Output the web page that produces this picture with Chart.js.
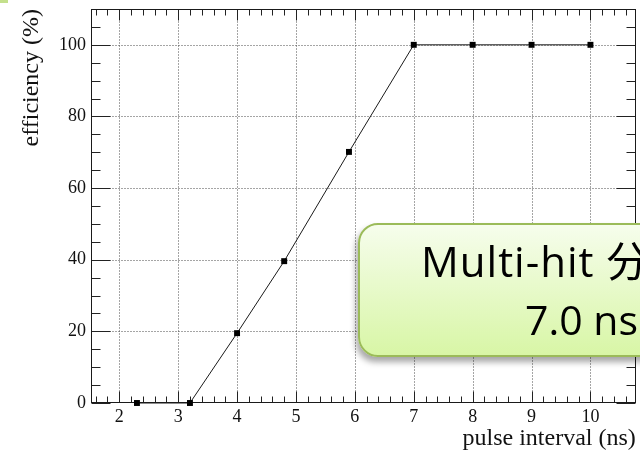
<!DOCTYPE html>
<html>
<head>
<meta charset="utf-8">
<script src="https://cdn.jsdelivr.net/npm/chart.js@4/dist/chart.umd.min.js"></script>
<style>
  html, body { margin: 0; padding: 0; background: #fff; overflow: hidden; }
  #wrap { position: relative; width: 640px; height: 453px; overflow: hidden; }
  canvas { display: block; }
  .corner { position: absolute; left: 0; top: 0; width: 8px; height: 3px; background: #c4e08c; }
  .note {
    position: absolute; left: 358px; top: 223px; width: 330px; height: 130px;
    border: 2px solid #9bbb59; border-radius: 20px;
    background: linear-gradient(#f6fdec, #d8f6a6);
    box-shadow: -2px 5px 6px rgba(0, 0, 0, 0.35);
    font-family: "Open Sans", "Noto Sans CJK JP", sans-serif; color: #000;
  }
  .note span { position: absolute; white-space: nowrap; line-height: 1; }
</style>
</head>
<body>
<div id="wrap">
  <canvas id="chart" width="640" height="453"></canvas>
  <div class="corner"></div>
  <div class="note">
    <span style="left:61px; top:15px; font-size:42px; letter-spacing:1px;">Multi-hit 分解能</span>
    <span style="left:165px; top:74px; font-size:41px;">7.0 ns</span>
  </div>
</div>
<script>
// Measured efficiency versus the interval between two pulses
const pulseInterval = [2.3, 3.2, 4.0, 4.8, 5.9, 7.0, 8.0, 9.0, 10.0];
const efficiency    = [0, 0, 19.5, 39.6, 70.1, 100, 100, 100, 100];
const xTickValues   = [2, 3, 4, 5, 6, 7, 8, 9, 10];
const yTickValues   = [0, 20, 40, 60, 80, 100];

const SERIF = "'Liberation Serif', 'Times New Roman', serif";

// ROOT-like frame: dotted grid, box on all four sides, inward major/minor ticks
const rootFrame = {
  id: 'rootFrame',
  beforeDatasetsDraw(chart) {
    const { ctx, chartArea: a, scales: { x, y } } = chart;
    const px = v => Math.round(x.getPixelForValue(v)) + 0.5;
    const py = v => Math.round(y.getPixelForValue(v)) + 0.5;
    const L = Math.round(a.left) + 0.5, R = Math.round(a.right) - 0.5;
    const T = Math.round(a.top) + 0.5, B = Math.round(a.bottom) - 0.5;

    ctx.save();
    // dotted grid
    ctx.strokeStyle = '#4a4a4a';
    ctx.lineWidth = 1;
    ctx.setLineDash([1, 2]);
    ctx.beginPath();
    xTickValues.forEach(v => { const p = px(v); ctx.moveTo(p, T); ctx.lineTo(p, B); });
    yTickValues.filter(v => v > 0).forEach(v => { const p = py(v); ctx.moveTo(L, p); ctx.lineTo(R, p); });
    ctx.stroke();
    ctx.setLineDash([]);

    // ticks
    ctx.strokeStyle = '#222';
    ctx.beginPath();
    for (let i = 16; i <= 107; i += 2) {
      const v = i / 10, major = i % 10 === 0, len = major ? 11 : 6, p = px(v);
      if (p < L || p > R) continue;
      ctx.moveTo(p, B); ctx.lineTo(p, B - len);
      ctx.moveTo(p, T); ctx.lineTo(p, T + len);
    }
    for (let v = 0; v <= 110; v += 5) {
      const major = v % 20 === 0, len = major ? 19 : 9, p = py(v);
      ctx.moveTo(L, p); ctx.lineTo(L + len, p);
      ctx.moveTo(R, p); ctx.lineTo(R - len, p);
    }
    ctx.stroke();

    // frame
    ctx.strokeStyle = '#1a1a1a';
    ctx.strokeRect(L, T, R - L, B - T);
    ctx.restore();
  }
};

new Chart(document.getElementById('chart'), {
  type: 'line',
  data: {
    datasets: [{
      data: pulseInterval.map((v, i) => ({ x: v, y: efficiency[i] })),
      borderColor: '#1a1a1a',
      borderWidth: 1,
      tension: 0,
      pointStyle: 'rect',
      pointRadius: 4.2,
      pointBackgroundColor: '#000',
      pointBorderWidth: 0,
      clip: false
    }]
  },
  options: {
    responsive: false,
    animation: false,
    devicePixelRatio: 1,
    layout: { padding: { top: 9, right: 4, left: 0, bottom: 0 } },
    plugins: { legend: { display: false }, tooltip: { enabled: false } },
    scales: {
      x: {
        type: 'linear', min: 1.52, max: 10.77,
        grid: { display: false, drawTicks: false }, border: { display: false },
        ticks: { font: { family: SERIF, size: 18 }, color: '#111', padding: 3, autoSkip: false, maxRotation: 0 },
        afterBuildTicks: s => { s.ticks = xTickValues.map(v => ({ value: v })); },
        afterFit: s => { s.height = 50; s.paddingLeft = 0; s.paddingRight = 0; },
        title: { display: true, text: 'pulse interval (ns)', align: 'end', color: '#111',
                 font: { family: SERIF, size: 24 }, padding: { top: 0, bottom: 0 } }
      },
      y: {
        type: 'linear', min: 0, max: 110,
        grid: { display: false, drawTicks: false }, border: { display: false },
        ticks: { font: { family: SERIF, size: 18 }, color: '#111', padding: 5, autoSkip: false },
        afterBuildTicks: s => { s.ticks = yTickValues.map(v => ({ value: v })); },
        afterFit: s => { s.width = 91; s.paddingTop = 0; s.paddingBottom = 0; },
        title: { display: true, text: 'efficiency (%)', align: 'end', color: '#111',
                 font: { family: SERIF, size: 24 }, padding: { top: 17, bottom: 0 } }
      }
    }
  },
  plugins: [rootFrame]
});
</script>
</body>
</html>
